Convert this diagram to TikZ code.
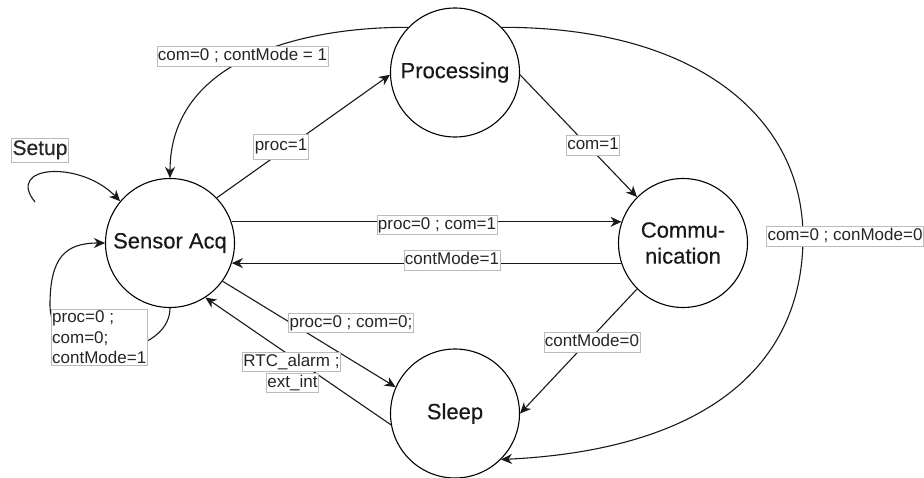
\documentclass[tikz,border=0pt]{standalone}
\usepackage{fontspec}
\setmainfont{Liberation Sans}
\newfontfamily\statefont{Liberation Sans}[FakeBold=0.4]
\usetikzlibrary{arrows.meta}
\definecolor{lblborder}{HTML}{BBBBBB}
\begin{document}
\begin{tikzpicture}[x=1pt,y=-1pt,
  state/.style={circle,draw=black,line width=1.1pt,minimum size=129pt,inner sep=0pt,
    font=\statefont\fontsize{22}{26}\selectfont,align=center,text=black!90},
  conn/.style={draw=black!90,line width=1.1pt,-{Stealth[length=11pt,width=10pt,inset=3.5pt]}},
  lab/.style={fill=white,draw=lblborder,line width=0.6pt,inner xsep=1pt,inner ysep=1.5pt,
    font=\fontsize{17}{20.5}\selectfont,text=black!85,text height=12.5pt,text depth=4pt},
]
\useasboundingbox (0,0) rectangle (924,477);

% states
\node[state] (sa) at (170,243) {Sensor Acq};
\node[state] (pr) at (455,72.5) {Processing};
\node[state] (co) at (683,243) {Commu-\\nication};
\node[state] (sl) at (455,413.5) {Sleep};

% connectors
\coordinate (s0) at (35,202);
\draw[conn] (s0) .. controls (5,165) and (80,160) .. (sa.140);
\draw[conn] (pr.136) .. controls (300,27) and (170,60) .. (sa.90);
\draw[conn] (pr.44) .. controls (700,27) and (803,120) .. (803,237)
                    .. controls (803,370) and (700,450) .. (sl.-45);
\draw[conn] (sa.44.6) -- (pr.182);
\draw[conn] (pr.-2) -- (co.135);
\draw[conn] (sa.19) -- (co.161);
\draw[conn] (co.198) -- (sa.-18);
\draw[conn] (sa.-36) -- (sl.156);
\draw[conn] (sl.190) -- (sa.-57);
\draw[conn] (co.225) -- (sl.0);
\draw[conn] (sa.-90) .. controls (170,360) and (50,370) .. (50,305)
                     .. controls (50,258) and (65,243) .. (sa.180);

% labels
\node[lab] (l1) at (242.5,56.5) {com=0 ; contMode = 1};
\node[lab,font=\statefont\fontsize{21}{24}\selectfont,text height=15pt,text depth=5pt,inner ysep=2pt] (setup) at (40,150) {Setup};
\node[lab,inner ysep=4.5pt] (l2) at (281,146.7) {proc=1};
\node[lab] (l3) at (593,145.3) {com=1};
\node[lab] (l4) at (437,225) {proc=0 ; com=1};
\node[lab] (l5) at (452,260.5) {contMode=1};
\node[lab] (l6) at (845,236.5) {com=0 ; conMode=0};
\node[lab] (l7) at (592,342.5) {contMode=0};
\node[lab] (l8) at (351,323) {proc=0 ; com=0;};
\node[lab] (l9) at (291.5,362) {RTC\_alarm ;};
\node[lab] (l10) at (292.5,383) {ext\_int};
\node[lab,align=left,text height=,text depth=] (l11) at (99.2,337.5) {proc=0 ;\\com=0;\\contMode=1};
\end{tikzpicture}
\end{document}
